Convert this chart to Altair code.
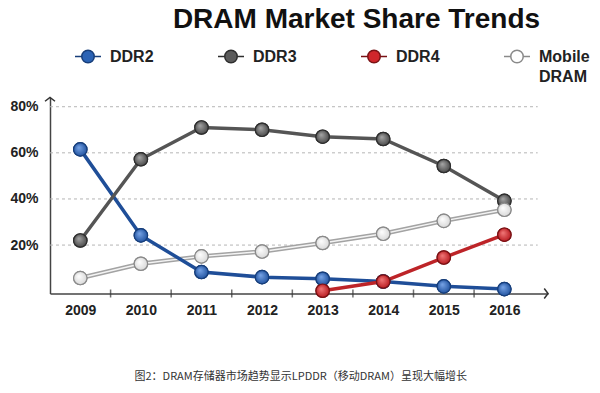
import altair as alt
import pandas as pd

years = [2009, 2010, 2011, 2012, 2013, 2014, 2015, 2016]
series_names = ["DDR2", "DDR3", "DDR4", "Mobile DRAM"]
ddr2 = [61.5, 24.2, 8.3, 6.1, 5.4, 4.2, 2.1, 0.9]
ddr3 = [22.0, 57.2, 71.0, 70.0, 67.0, 66.0, 54.3, 39.2]
ddr4 = [None, None, None, None, 0.2, 4.2, 14.6, 24.5]
mobile = [5.7, 11.9, 15.1, 17.2, 20.9, 24.9, 30.5, 35.3]

y_ticks = [20, 40, 60, 80]
x_tick_marks = [2009.5, 2010.5, 2011.5, 2012.5, 2013.5, 2014.5, 2015.5]

fill_colors = ["#2b63b5", "#5b5b5b", "#d0262b", "#ffffff"]
highlight_colors = ["#7aa6e8", "#a8a8a8", "#f27a7a", "#ffffff"]
shade_colors = ["#1d4f9c", "#444444", "#b5161c", "#d6d6d6"]
stroke_colors = ["#173e7a", "#2e2e2e", "#7a1215", "#8a8a8a"]
line_colors = ["#1f4e98", "#555555", "#bd2428", "#a3a3a3"]

title_text = "DRAM Market Share Trends"
caption_text = "图2：DRAM存储器市场趋势显示LPDDR（移动DRAM）呈现大幅增长"

X_MIN, X_MAX = 2008.5, 2016.72
Y_MIN, Y_MAX = -1, 84
GRID_END = 2016.55

rows = []
for name, vals in zip(series_names, [ddr2, ddr3, ddr4, mobile]):
    for yr, v in zip(years, vals):
        if v is not None:
            rows.append({"year": yr, "share": v, "series": name})
df = pd.DataFrame(rows)

font = "Liberation Sans"
xs = alt.Scale(domain=[X_MIN, X_MAX], nice=False, zero=False)
ys = alt.Scale(domain=[Y_MIN, Y_MAX], nice=False, zero=False)

base = alt.Chart(df)

x_enc = alt.X(
    "year:Q", scale=xs,
    axis=alt.Axis(
        values=years, format="d", tickSize=0, grid=False,
        labelFont=font, labelFontWeight="bold", labelFontSize=14,
        labelColor="#222", labelPadding=10,
        domainColor="#444", domainWidth=1.5,
        title=caption_text, titleFont="Noto Sans CJK SC", titleFontSize=11,
        titleFontWeight="normal", titleColor="#333", titleAnchor="start",
        titleAlign="left", titleBaseline="middle", titleX=84, titleY=83,
    ),
)
y_enc = alt.Y(
    "share:Q", scale=ys,
    axis=alt.Axis(
        values=y_ticks, labelExpr="datum.value + '%'", tickSize=0, grid=False,
        labelFont=font, labelFontWeight="bold", labelFontSize=14,
        labelColor="#222", labelPadding=12,
        domainColor="#444", domainWidth=1.5,
        title=title_text, titleFont=font, titleFontSize=28, titleFontWeight="bold",
        titleColor="#111", titleAngle=0, titleAlign="center", titleBaseline="alphabetic",
        titleX=306, titleY=-70,
    ),
)

grid_df = pd.DataFrame({"g": y_ticks, "x0": [X_MIN] * 4, "x1": [GRID_END] * 4})
grid = alt.Chart(grid_df).mark_rule(color="#b5b5b5", strokeDash=[3, 3], strokeWidth=1).encode(
    y=alt.Y("g:Q", scale=ys), x=alt.X("x0:Q", scale=xs), x2="x1:Q"
)

tick_df = pd.DataFrame({"t": x_tick_marks, "y0": [Y_MIN] * len(x_tick_marks)})
ticks = alt.Chart(tick_df).mark_tick(orient="vertical", size=8, thickness=1.5, color="#333").encode(
    x=alt.X("t:Q", scale=xs), y=alt.Y("y0:Q", scale=ys)
)

arrow_df = pd.DataFrame({"ax": [X_MIN], "ay": [Y_MAX], "bx": [X_MAX], "by": [Y_MIN]})
arrow_up = alt.Chart(arrow_df).mark_point(
    shape="M-1,0.75L0,0L1,0.75", size=100, filled=False, stroke="#333", strokeWidth=1.5, opacity=1
).encode(x=alt.X("ax:Q", scale=xs), y=alt.Y("ay:Q", scale=ys))
arrow_right = alt.Chart(arrow_df).mark_point(
    shape="M-0.75,-1L0,0L-0.75,1", size=100, filled=False, stroke="#333", strokeWidth=1.5, opacity=1
).encode(x=alt.X("bx:Q", scale=xs), y=alt.Y("by:Q", scale=ys))

line_color = alt.Color("series:N", scale=alt.Scale(domain=series_names, range=line_colors), legend=None)

mobile_line = base.transform_filter(alt.datum.series == "Mobile DRAM").mark_line(strokeWidth=4.5).encode(
    x=x_enc, y=y_enc, color=line_color
)
mobile_core = base.transform_filter(alt.datum.series == "Mobile DRAM").mark_line(
    strokeWidth=1.5, color="#f4f4f4"
).encode(x=alt.X("year:Q", scale=xs), y=alt.Y("share:Q", scale=ys))
other_lines = base.transform_filter(alt.datum.series != "Mobile DRAM").mark_line(strokeWidth=3.5).encode(
    x=alt.X("year:Q", scale=xs), y=alt.Y("share:Q", scale=ys), color=line_color, detail="series:N"
)

legend_symbol = "M-1,0L-0.48,0M0.48,0L1,0M0.48,0A0.48,0.48,0,1,1,-0.48,0A0.48,0.48,0,1,1,0.48,0Z"
points = base.mark_point(filled=True, size=180, strokeWidth=1.2, opacity=1).encode(
    x=alt.X("year:Q", scale=xs), y=alt.Y("share:Q", scale=ys),
    fill=alt.Fill(
        "series:N", scale=alt.Scale(domain=series_names, range=fill_colors),
        legend=alt.Legend(
            title=None, orient="none", direction="horizontal", legendX=24, legendY=-55,
            symbolType=legend_symbol, symbolSize=676, symbolStrokeColor="#444",
            symbolStrokeWidth=1.5, labelOffset=8, columnPadding=61,
            labelFont=font, labelFontWeight="bold", labelFontSize=16, labelColor="#222",
            labelBaseline="middle", labelLimit=200,
            labelExpr="datum.label == 'Mobile DRAM' ? ['Mobile', 'DRAM'] : [datum.label, '']",
        ),
    ),
    stroke=alt.Stroke("series:N", scale=alt.Scale(domain=series_names, range=stroke_colors), legend=None),
)

glossy_layers = []
for name, hi, sh, st in zip(series_names, highlight_colors, shade_colors, stroke_colors):
    grad = {
        "gradient": "radial", "x1": 0.38, "y1": 0.35, "r1": 0.0,
        "x2": 0.5, "y2": 0.5, "r2": 0.55,
        "stops": [{"offset": 0, "color": hi}, {"offset": 1, "color": sh}],
    }
    glossy_layers.append(
        base.transform_filter(alt.datum.series == name).mark_point(
            filled=True, size=180, strokeWidth=1.2, opacity=1, fill=grad, stroke=st
        ).encode(x=alt.X("year:Q", scale=xs), y=alt.Y("share:Q", scale=ys))
    )

chart = alt.layer(
    grid, mobile_line, mobile_core, other_lines, ticks, arrow_up, arrow_right, points, *glossy_layers
).resolve_scale(
    color="independent", fill="independent", stroke="independent"
).properties(
    width=498, height=196,
    autosize=alt.AutoSizeParams(type="none"),
    padding={"left": 42, "top": 89.5, "right": 44, "bottom": 91.5},
).configure(
    background="white",
    view=alt.ViewConfig(stroke=None),
    style={"guide-label": {"lineHeight": 20}},
)

chart.save("out.html", embed_options={"renderer": "svg", "actions": False})
